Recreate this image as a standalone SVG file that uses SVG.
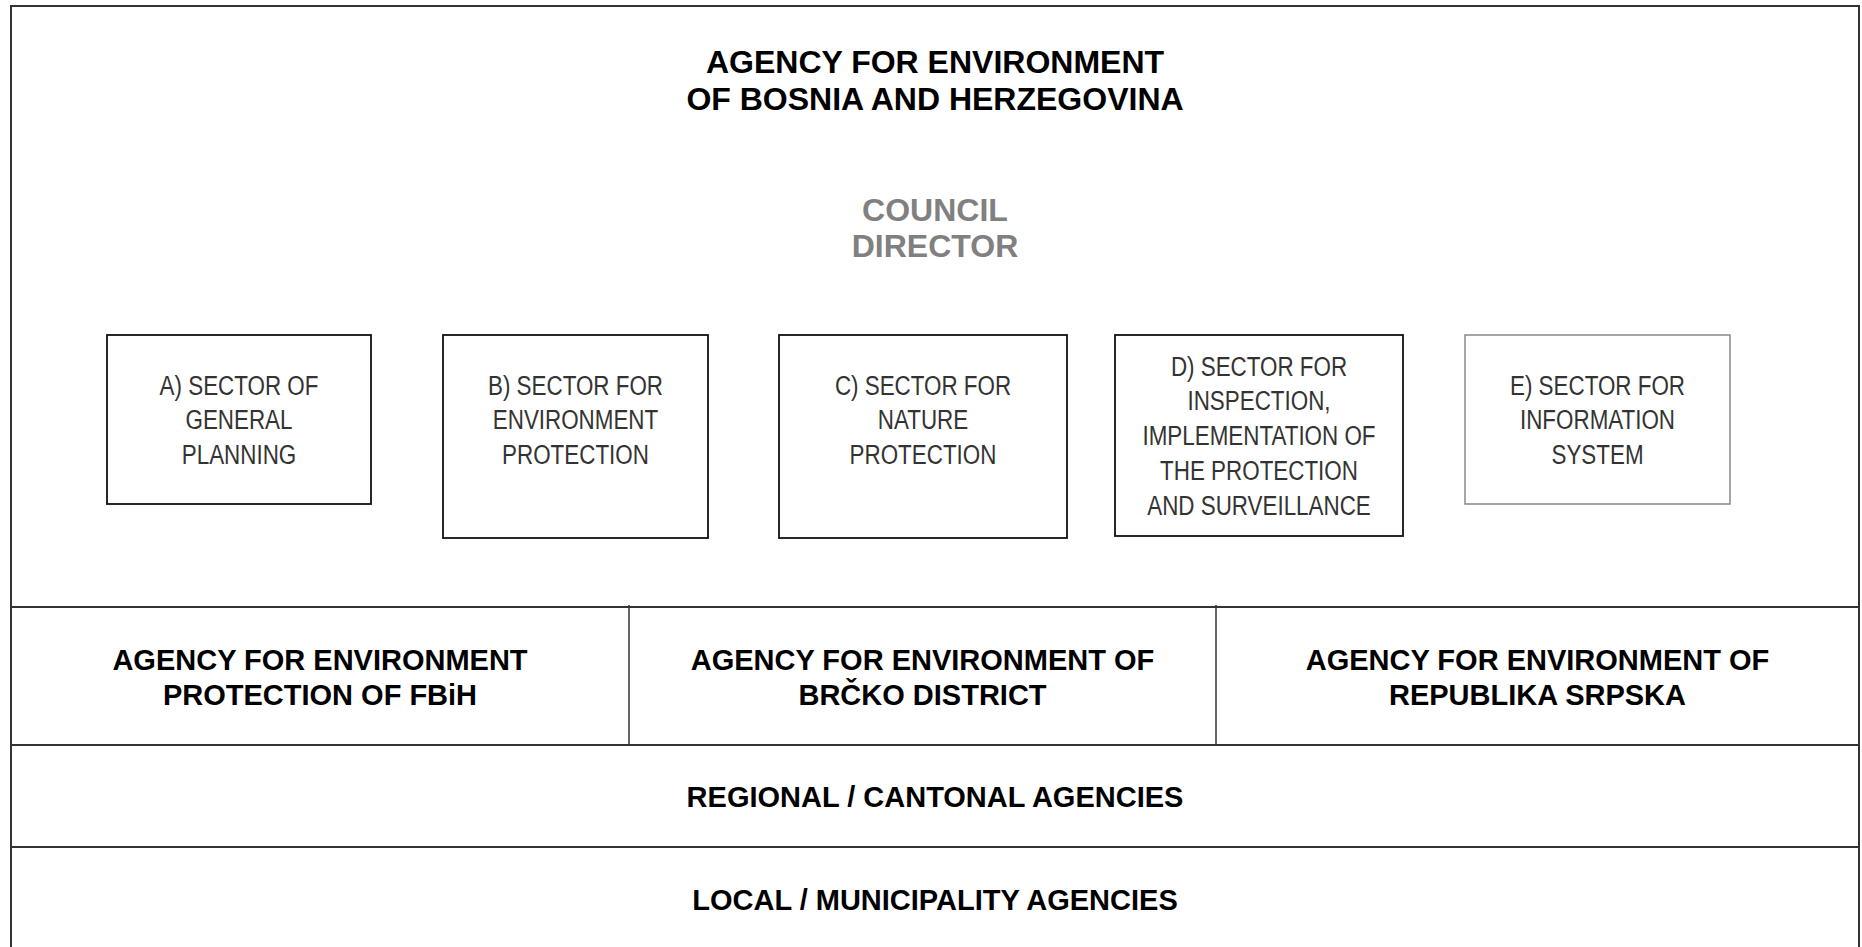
<svg xmlns="http://www.w3.org/2000/svg" width="1862" height="947" viewBox="0 0 1862 947">
<style>
.line{stroke:#333;stroke-width:2;fill:none}
.div{stroke:#333;stroke-width:1.5;fill:none}
.box{fill:#fff;stroke:#111;stroke-width:1.8}
.boxg{fill:#fff;stroke:#888;stroke-width:1.5}
.bold{font-family:"Liberation Sans",Arial,sans-serif;font-weight:bold;fill:#000;text-anchor:middle}
.t32{font-size:32px}
.t29{font-size:29px}
.gray{fill:#808080}
.sec{font-family:"Liberation Sans",Arial,sans-serif;font-size:28px;fill:#333;text-anchor:middle}
</style>
<rect x="0" y="0" width="1862" height="947" fill="#fff"/>
<g id="grid">
<rect class="line" x="11" y="6" width="1848" height="960"/>
<line class="line" x1="11" y1="607" x2="1859" y2="607"/>
<line class="line" x1="11" y1="745" x2="1859" y2="745"/>
<line class="line" x1="11" y1="847" x2="1859" y2="847"/>
<line class="div" x1="629" y1="605" x2="629" y2="745"/>
<line class="div" x1="1216" y1="605" x2="1216" y2="745"/>
</g>
<g id="connectors"></g>
<g id="agency-bih">
<text class="bold t32" x="935" y="73">AGENCY FOR ENVIRONMENT</text>
<text class="bold t32" x="935" y="110">OF BOSNIA AND HERZEGOVINA</text>
</g>
<g id="council-director">
<text class="bold t32 gray" x="935" y="221">COUNCIL</text>
<text class="bold t32 gray" x="935" y="257">DIRECTOR</text>
</g>
<g id="sector-a">
<rect class="box" x="107" y="335" width="264" height="169"/>
<text class="sec" transform="translate(239,394.5) scale(0.8,1)"><tspan x="0" y="0">A) SECTOR OF</tspan><tspan x="0" y="35">GENERAL</tspan><tspan x="0" y="70">PLANNING</tspan></text>
</g>
<g id="sector-b">
<rect class="box" x="443" y="335" width="265" height="203"/>
<text class="sec" transform="translate(575.5,394.5) scale(0.8,1)"><tspan x="0" y="0">B) SECTOR FOR</tspan><tspan x="0" y="35">ENVIRONMENT</tspan><tspan x="0" y="70">PROTECTION</tspan></text>
</g>
<g id="sector-c">
<rect class="box" x="779" y="335" width="288" height="203"/>
<text class="sec" transform="translate(923,394.5) scale(0.8,1)"><tspan x="0" y="0">C) SECTOR FOR</tspan><tspan x="0" y="35">NATURE</tspan><tspan x="0" y="70">PROTECTION</tspan></text>
</g>
<g id="sector-d">
<rect class="box" x="1115" y="335" width="288" height="201"/>
<text class="sec" transform="translate(1259,375.5) scale(0.8,1)"><tspan x="0" y="0">D) SECTOR FOR</tspan><tspan x="0" y="35">INSPECTION,</tspan><tspan x="0" y="70">IMPLEMENTATION OF</tspan><tspan x="0" y="105">THE PROTECTION</tspan><tspan x="0" y="140">AND SURVEILLANCE</tspan></text>
</g>
<g id="sector-e">
<rect class="boxg" x="1465" y="335" width="265" height="169"/>
<text class="sec" transform="translate(1597.5,394.5) scale(0.8,1)"><tspan x="0" y="0">E) SECTOR FOR</tspan><tspan x="0" y="35">INFORMATION</tspan><tspan x="0" y="70">SYSTEM</tspan></text>
</g>
<g id="agency-fbih">
<text class="bold t29" x="320" y="670">AGENCY FOR ENVIRONMENT</text>
<text class="bold t29" x="320" y="705">PROTECTION OF FBiH</text>
</g>
<g id="agency-brcko">
<text class="bold t29" x="922.5" y="670">AGENCY FOR ENVIRONMENT OF</text>
<text class="bold t29" x="922.5" y="705">BRČKO DISTRICT</text>
</g>
<g id="agency-rs">
<text class="bold t29" x="1537.5" y="670">AGENCY FOR ENVIRONMENT OF</text>
<text class="bold t29" x="1537.5" y="705">REPUBLIKA SRPSKA</text>
</g>
<g id="regional">
<text class="bold t29" x="935" y="807">REGIONAL / CANTONAL AGENCIES</text>
</g>
<g id="local">
<text class="bold t29" x="935" y="910">LOCAL / MUNICIPALITY AGENCIES</text>
</g>
</svg>
